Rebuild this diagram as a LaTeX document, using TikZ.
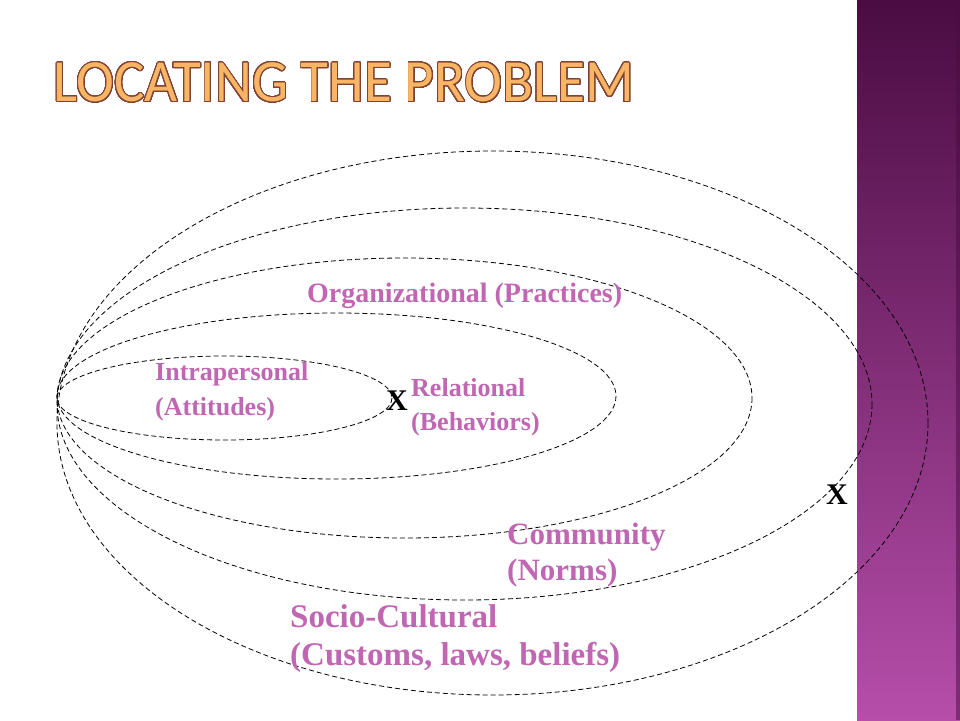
\documentclass[tikz,border=0pt]{standalone}
\usepackage{fontspec}
\setmainfont{Liberation Serif}
\newfontfamily\titlefont{Carlito}
\usepackage{contour}
\contourlength{0.9pt}
\definecolor{labelpink}{RGB}{192,102,178}
\definecolor{titlefill}{RGB}{248,182,100}
\definecolor{titleline}{RGB}{128,66,52}
\definecolor{bartop}{RGB}{74,12,66}
\definecolor{barmid}{RGB}{130,48,118}
\definecolor{barbot}{RGB}{182,78,170}
\tikzset{
  ring/.style={black, line width=0.8pt, dash pattern=on 5pt off 3pt},
  lbl/.style={text=labelpink, font=\bfseries, inner sep=0pt, anchor=west, align=left},
  xmark/.style={font=\bfseries\fontsize{30}{30}\selectfont, inner sep=0pt}
}
\begin{document}
\begin{tikzpicture}[x=1pt,y=-1pt]
		\useasboundingbox (0,0) rectangle (960,720);
		\fill[white] (0,0) rectangle (960,720);
		% side bar
		\shade[top color=bartop, middle color=barmid, bottom color=barbot] (857,0) rectangle (960,720);
		\fill[bartop, opacity=0.5] (956,0) rectangle (960,720);
		% title
		\node (title) at (344,83) {\scalebox{1}[1.05]{\titlefont\fontsize{57}{57}\selectfont
			\contour[48]{titleline}{\textcolor{titlefill}{LOCATING THE PROBLEM}}}};
		% nested rings
		\foreach \cx/\cy/\rx/\ry in {224.5/398/167.5/42, 336.5/396/279.5/83, 404.5/398/347.5/140, 464.5/404/407.5/196, 492.5/423/435.5/272}
			\draw[ring] (\cx,\cy) ellipse [x radius=\rx, y radius=\ry];
		% labels
		\node[lbl, font=\bfseries\fontsize{26}{35}\selectfont] (intra) at (155,392) {Intrapersonal\\(Attitudes)};
		\node[lbl, font=\bfseries\fontsize{26}{34}\selectfont] (rel) at (411,407) {Relational\\(Behaviors)};
		\node[lbl, font=\bfseries\fontsize{28}{28}\selectfont] (org) at (307,296) {Organizational (Practices)};
		\node[lbl, font=\bfseries\fontsize{31}{36}\selectfont] (comm) at (507,555) {Community\\(Norms)};
		\node[lbl, font=\bfseries\fontsize{33}{38}\selectfont] (socio) at (290,639) {Socio-Cultural\\(Customs, laws, beliefs)};
		\node[xmark] (x1) at (397,401) {X};
		\node[xmark] (x2) at (837,495) {X};
\end{tikzpicture}
\end{document}
